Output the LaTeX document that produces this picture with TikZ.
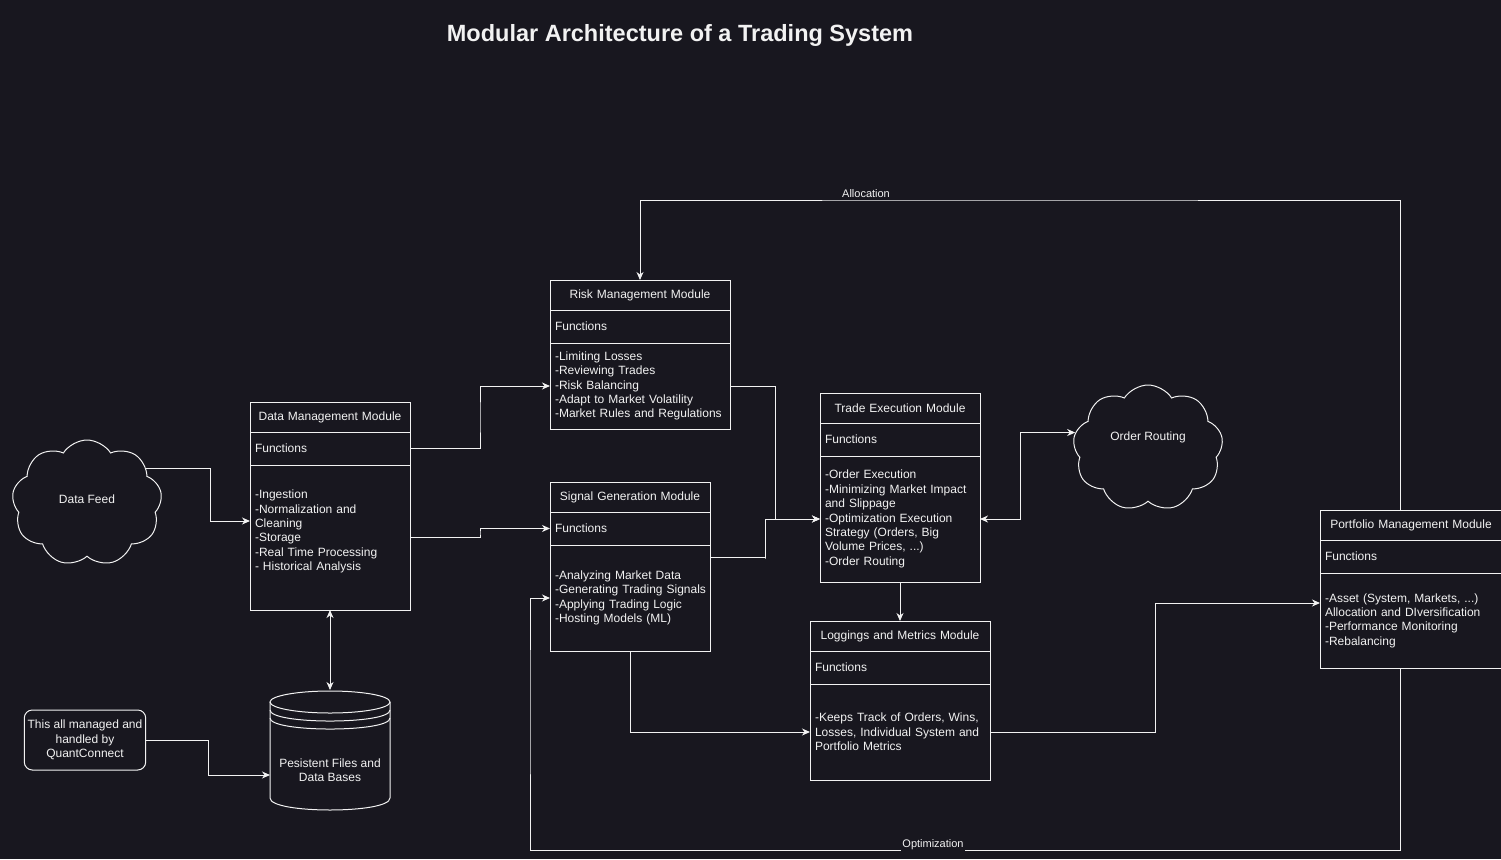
\documentclass[tikz,border=0pt]{standalone}
\usepackage{fontspec}
\setmainfont{Liberation Sans}
\usetikzlibrary{positioning,shapes.symbols,arrows.meta,calc}

\definecolor{bg}{HTML}{18171F}
\definecolor{fg}{HTML}{F2F2F2}

\tikzset{
    every node/.style={text=fg, font=\fontsize{12}{14.4}\selectfont},
    >={Stealth[length=8pt,width=7pt,inset=2.5pt]},
    modhead/.style={draw=fg, line width=1pt, outer sep=0pt, inner xsep=5pt, minimum height=30pt, align=center},
    modrow/.style={draw=fg, line width=1pt, outer sep=0pt, inner xsep=5pt, minimum height=33pt, align=left,
        execute at begin node={\hyphenpenalty=10000\relax}},
    w160/.style={minimum width=160pt, text width=150pt},
    w180/.style={minimum width=180pt, text width=170pt},
    w182/.style={minimum width=182pt, text width=172pt},
    flow/.style={draw=fg, line width=1pt},
    cloudy/.style={cloud, cloud puffs=9, cloud puff arc=115, aspect=1.2, draw=fg, line width=1pt,
        minimum width=150pt, minimum height=126pt},
    lbl/.style={fill=bg, inner sep=1pt, font=\fontsize{11}{13}\selectfont},
}

\begin{document}
\begin{tikzpicture}[x=1pt,y=-1pt]
    \useasboundingbox (0,0) rectangle (1501,859);
    \fill[bg] (0,0) rectangle (1501,859);

    \node[font=\bfseries\fontsize{23.5}{28}\selectfont] (title) at (680,35) {Modular Architecture of a Trading System};

    % modules
    \node[modhead,w160] (dmh) at (330,417) {Data Management Module};
    \node[modrow,w160,below=0pt of dmh] (dmf) {Functions};
    \node[modrow,w160,below=0pt of dmf,minimum height=145pt] (dmb) {-Ingestion\\-Normalization and\\Cleaning\\-Storage\\-Real Time Processing\\- Historical Analysis\\\mbox{}};

    \node[modhead,w180] (rmh) at (640,295) {Risk Management Module};
    \node[modrow,w180,below=0pt of rmh] (rmf) {Functions};
    \node[modrow,w180,below=0pt of rmf,minimum height=86pt] (rmb) {-Limiting Losses\\-Reviewing Trades\\-Risk Balancing\\-Adapt to Market Volatility\\-Market Rules and Regulations};

    \node[modhead,w160] (sgh) at (630,497) {Signal Generation Module};
    \node[modrow,w160,below=0pt of sgh] (sgf) {Functions};
    \node[modrow,w160,below=0pt of sgf,minimum height=106pt] (sgb) {-Analyzing Market Data\\\mbox{-Generating Trading Signals}\\-Applying Trading Logic\\-Hosting Models (ML)};

    \node[modhead,w160] (teh) at (900,408) {Trade Execution Module};
    \node[modrow,w160,below=0pt of teh] (tef) {Functions};
    \node[modrow,w160,below=0pt of tef,minimum height=126pt] (teb) {-Order Execution\\-Minimizing Market Impact\\and Slippage\\-Optimization Execution\\Strategy (Orders, Big\\Volume Prices, ...)\\-Order Routing};

    \node[modhead,w180] (lmh) at (900,636) {Loggings and Metrics Module};
    \node[modrow,w180,below=0pt of lmh] (lmf) {Functions};
    \node[modrow,w180,below=0pt of lmf,minimum height=96pt] (lmb) {-Keeps Track of Orders, Wins,\\Losses, Individual System and\\Portfolio Metrics};

    \node[modhead,w182] (pmh) at (1411,525) {Portfolio Management Module};
    \node[modrow,w182,below=0pt of pmh] (pmf) {Functions};
    \node[modrow,w182,below=0pt of pmf,minimum height=95pt] (pmb) {-Asset (System, Markets, ...)\\Allocation and DIversification\\-Performance Monitoring\\-Rebalancing};

    % clouds, store, note
    \node[cloudy,text depth=8pt] (df) at (87,503) {Data Feed};
    \node[cloudy,text depth=23pt] (ort) at (1148,448) {Order Routing};
    \node[draw=fg, line width=1pt, rounded corners=8pt, minimum width=120pt, minimum height=60pt, align=center] (qc) at (85,740) {This all managed and\\handled by\\QuantConnect};

    \node[minimum width=120pt, minimum height=120pt, outer sep=0pt] (db) at (330,750) {};
    \draw[flow] (330,702) ellipse [x radius=60pt, y radius=11pt];
    \foreach \cy in {710,718} {
        \draw[flow] (270,\cy) .. controls (270,\cy+14.7) and (390,\cy+14.7) .. (390,\cy);
    }
    \draw[flow] (270,702) -- (270,798) .. controls (270,814) and (390,814) .. (390,798) -- (390,702);
    \node[align=center] (dbt) at (330,770) {Pesistent Files and\\Data Bases};

    % connectors
    \coordinate (k1) at (210,521);
    \coordinate (kal) at (1000,200);
    \coordinate (kop) at (900,850);
    \coordinate (kop2) at (530,700);
    \draw[flow,->] (df.30) -| (k1) -- (dmb.west |- k1);
    \draw[flow,->] (dmf.east) -| ($(dmf.east)!.5!(rmb.west)$) |- (rmb.west);
    \draw[flow,->] (dmb.east) -| ($(dmb.east)!.5!(sgf.west)$) |- (sgf.west);
    \draw[flow,<->] (dmb.south) -- (db.north);
    \draw[flow,->] (qc.east) -| ($(qc.east)!.5!(db.west)$) |- ([yshift=-25pt]db.west);
    \draw[flow,->] (rmb.east) -| ($(rmb.east)!.5!(teb.west)$) |- (teb.west);
    \draw[flow,->] ([yshift=-12pt]sgb.north east) -| ($(sgb.east)!.5!(teb.west)$) |- (teb.west);
    \draw[flow,<->] (teb.east) -- ++(40,0) |- (ort.168);
    \draw[flow,->] (teb.south) -- (lmh.north);
    \draw[flow,->] (sgb.south) |- (lmb.west);
    \draw[flow,->] (lmb.east) -| ($(lmb.east)!.5!(pmb.west)$) |- ([yshift=17.5pt]pmb.west);
    \draw[flow,->] ([xshift=-11pt]pmh.north) |- (kal) -| (rmh.north);
    \draw[flow,->] ([xshift=-11pt]pmb.south) |- (kop) -| (kop2) |- (sgb.west);
    \node[lbl] (alloc) at (866,194) {Allocation};
    \node[lbl] (optim) at (933,845) {Optimization};
\end{tikzpicture}
\end{document}
